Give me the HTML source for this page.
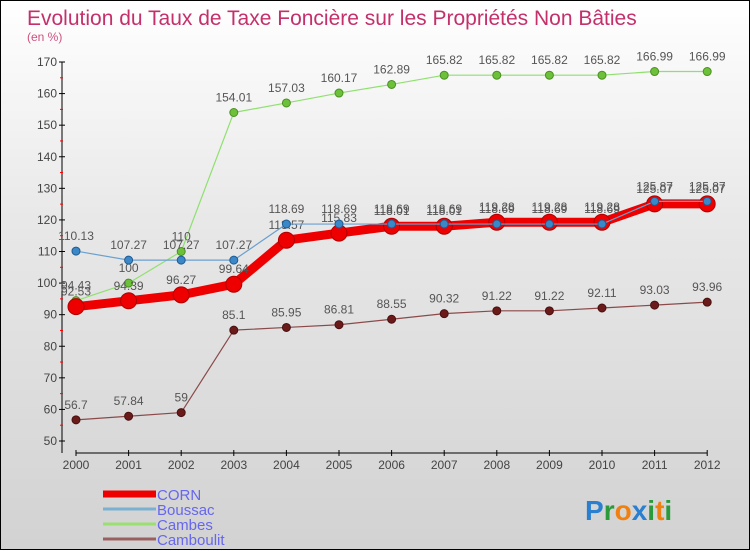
<!DOCTYPE html>
<html><head><meta charset="utf-8"><style>
html,body{margin:0;padding:0}
body{width:750px;height:550px;overflow:hidden;font-family:"Liberation Sans",sans-serif}
#wrap{position:relative;width:748px;height:548px;border:1px solid #000;background:linear-gradient(#ffffff,#e8e8e8 40%,#d2d2d2)}
svg{position:absolute;left:0;top:0}
</style></head><body>
<div id="wrap">
<svg id="chart" width="750" height="550">
<text x="26" y="24" font-size="21" fill="#c4306b" style="font-weight:300">Evolution du Taux de Taxe Foncière sur les Propriétés Non Bâties</text>
<text x="26" y="40" font-size="12" fill="#d0507f">(en %)</text>
</svg>
</div>
<script>
const years=["2000","2001","2002","2003","2004","2005","2006","2007","2008","2009","2010","2011","2012"];
const corn=[92.53,94.39,96.27,99.64,113.57,115.83,118.01,118.01,119.28,119.28,119.28,125.07,125.07];
const boussac=[110.13,107.27,107.27,107.27,118.69,118.69,118.69,118.69,118.69,118.69,118.69,125.87,125.87];
const cambes=[94.43,100,110,154.01,157.03,160.17,162.89,165.82,165.82,165.82,165.82,166.99,166.99];
const camboulit=[56.7,57.84,59,85.1,85.95,86.81,88.55,90.32,91.22,91.22,92.11,93.03,93.96];
const yTicks=[50,60,70,80,90,100,110,120,130,140,150,160,170];
const NS="http://www.w3.org/2000/svg";
const svg=document.getElementById("chart");
const x=i=>75+i*52.6;
const y=v=>440-(v-50)*(379/120);
function mk(t,a,p){const e=document.createElementNS(NS,t);for(const k in a)e.setAttribute(k,a[k]);(p||svg).appendChild(e);return e;}
const ax=mk("g",{});


mk("line",{x1:61,y1:y(170),x2:61,y2:452,stroke:"#000"},ax);
mk("line",{x1:x(0),y1:452,x2:x(12),y2:452,stroke:"#000"},ax);
yTicks.forEach(v=>{
 mk("line",{x1:58,y1:y(v),x2:64,y2:y(v),stroke:"#000"},ax);
 if(v<170)mk("line",{x1:59,y1:y(v+5),x2:62,y2:y(v+5),stroke:"#f00"},ax);
 const t=mk("text",{x:56,y:y(v)+4,"font-size":12,fill:"#444","text-anchor":"end"},ax);
 
 
 t.textContent=v;
});
years.forEach((yr,i)=>{
 mk("line",{x1:x(i),y1:449,x2:x(i),y2:455,stroke:"#000"},ax);
 const t=mk("text",{x:x(i),y:468,"font-size":12,fill:"#444","text-anchor":"middle"},ax);
 
 
 t.textContent=yr;
});
function series(name,data,color,w,r,mfill,mstroke){
 const g=mk("g",{});
 
 
 mk("polyline",{points:data.map((v,i)=>x(i)+","+y(v)).join(" "),fill:"none",stroke:color,"stroke-width":w,"stroke-linejoin":"round"},g);
 data.forEach((v,i)=>{
  const c=mk("circle",{cx:x(i),cy:y(v),r:r,fill:mfill,stroke:mstroke,"stroke-width":1},g);
  
  
  const t=mk("text",{x:x(i),y:y(v)-11,"font-size":12,fill:"#555","text-anchor":"middle"},g);
  
  
  t.textContent=String(v);
 });
}
series("camboulit",camboulit,"#8b4a4a",1.2,4,"#6b1a1a","#4a0f0f");
series("cambes",cambes,"#90e070",1.2,4,"#6cc03a","#4a9020");
series("corn",corn,"#ee0000",9,8,"#ee0000","#b00000");
series("boussac",boussac,"#6aa0d0",1.2,4,"#3a88c8","#1e5a90");
const lg=[["CORN","#ee0000",7],["Boussac","#7ab0d0",3],["Cambes","#9ae070",3],["Camboulit","#9a6060",3]];
lg.forEach((l,i)=>{
 const g=mk("g",{});
 
 
 const ly=493+i*15;
 mk("line",{x1:102,y1:ly,x2:155,y2:ly,stroke:l[1],"stroke-width":l[2]},g);
 const t=mk("text",{x:156,y:ly+6,"font-size":15,fill:"#6666ee"},g);
 t.textContent=l[0];
});
const lo=mk("text",{x:584,y:519,"font-size":28,"font-weight":"bold"});


[["P","#2a7fd0"],["r","#2a9a3a"],["o","#f08010"],["x","#2a7fd0"],["i","#2a9a3a"],["t","#f08010"],["i","#2a9a3a"]].forEach(c=>{mk("tspan",{fill:c[1]},lo).textContent=c[0];});
</script>
</body></html>
